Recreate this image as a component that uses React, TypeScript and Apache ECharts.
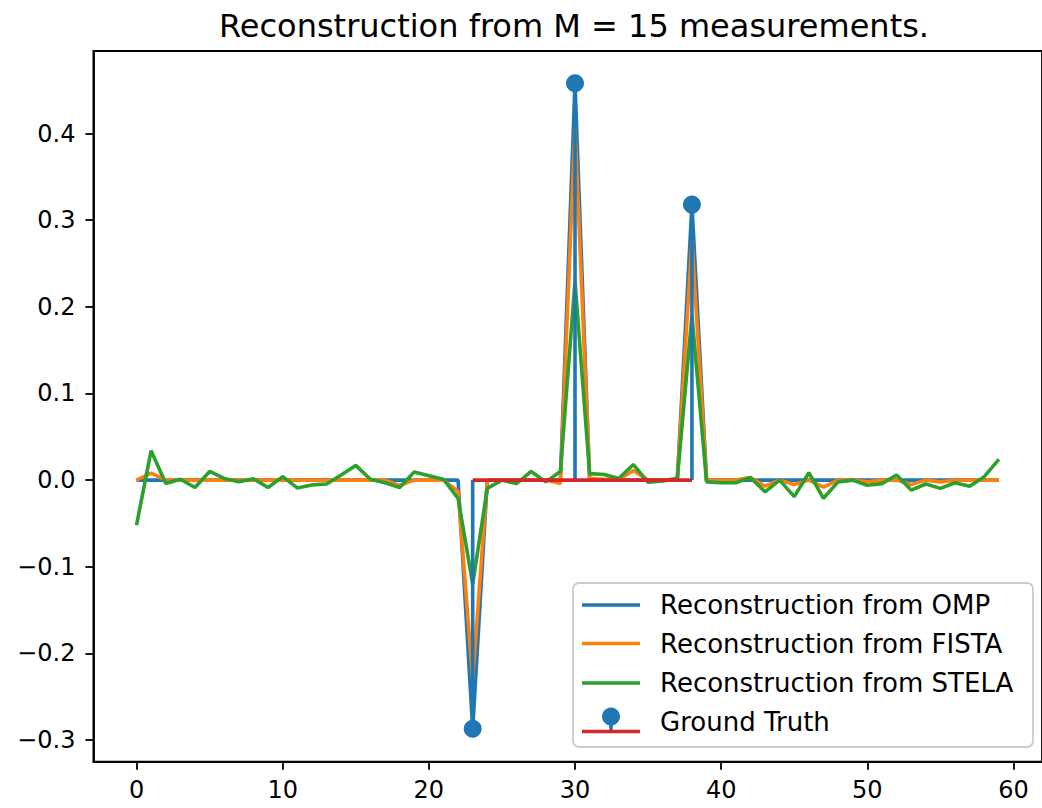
import React, { useEffect, useRef } from 'react';
import * as echarts from 'echarts';

const indices: number[] = Array.from({ length: 60 }, (_, i) => i);

const ompValues = [
  0, 0, 0, 0, 0, 0, 0, 0, 0, 0,
  0, 0, 0, 0, 0, 0, 0, 0, 0, 0,
  0, 0, 0, -0.287, 0, 0, 0, 0, 0, 0,
  0.458, 0, 0, 0, 0, 0, 0, 0, 0.318, 0,
  0, 0, 0, 0, 0, 0, 0, 0, 0, 0,
  0, 0, 0, 0, 0, 0, 0, 0, 0, 0,
];

const fistaValues = [
  0, 0.008, 0, 0, 0, 0, 0, 0, 0, 0,
  0, 0, 0, 0, 0, 0, 0, 0, -0.006, 0,
  0, 0, -0.013, -0.23, 0, 0, 0, 0, 0, -0.004,
  0.407, 0.002, 0.001, 0.001, 0.011, 0, 0, 0.001, 0.277, 0,
  0, 0, 0.003, -0.007, 0, -0.005, 0, -0.008, 0, 0,
  -0.002, 0, 0, -0.005, 0, -0.002, 0, 0, 0, 0,
];

const stelaValues = [
  -0.052, 0.034, -0.004, 0.001, -0.0085, 0.01, 0.002, -0.002, 0.0015, -0.0085,
  0.004, -0.009, -0.0055, -0.0045, 0.006, 0.017, 0.001, -0.003, -0.0085, 0.0095,
  0.005, 0.001, -0.021, -0.12, -0.0095, 0, -0.004, 0.01, -0.002, 0.01,
  0.229, 0.0075, 0.0065, 0.002, 0.018, -0.0025, -0.001, 0.002, 0.19, -0.002,
  -0.003, -0.003, 0.003, -0.0135, 0, -0.019, 0.0085, -0.021, -0.002, 0,
  -0.006, -0.004, 0.006, -0.0115, -0.0045, -0.0095, -0.003, -0.007, 0.004, 0.024,
];

const truthIndices = [23, 30, 38];
const truthValues = [-0.287, 0.458, 0.318];

const xTicks = [0, 10, 20, 30, 40, 50, 60];
const yTicks = [-0.3, -0.2, -0.1, 0, 0.1, 0.2, 0.3, 0.4];

const legendLabels = [
  'Reconstruction from OMP',
  'Reconstruction from FISTA',
  'Reconstruction from STELA',
  'Ground Truth',
];

const C0 = '#1f77b4';
const C1 = '#ff7f0e';
const C2 = '#2ca02c';
const C3 = '#d62728';
const FONT = '"DejaVu Sans", sans-serif';
const LW = 3.6;

function pairs(vals: number[]) {
  return indices.map((i) => [i, vals[i]]);
}

export default function App() {
  const ref = useRef<HTMLDivElement>(null);

  useEffect(() => {
    if (!ref.current) return;
    const chart = echarts.init(ref.current, undefined, { renderer: 'svg' });

    const lx0 = 582;
    const lx1 = 640;
    const rowsY = [605, 643.5, 683, 721.5];

    const legendChildren: any[] = [
      {
        type: 'rect',
        shape: { x: 573, y: 583, width: 460, height: 164, r: 6 },
        style: { fill: 'rgba(255,255,255,0.8)', stroke: '#cccccc', lineWidth: 1.8 },
      },
    ];
    const lineColors = [C0, C1, C2];
    lineColors.forEach((c, k) => {
      legendChildren.push({
        type: 'line',
        shape: { x1: lx0, y1: rowsY[k], x2: lx1, y2: rowsY[k] },
        style: { stroke: c, lineWidth: LW },
      });
    });
    const baseY = 731.5;
    const mx = (lx0 + lx1) / 2;
    legendChildren.push({
      type: 'line',
      shape: { x1: mx, y1: 716.5, x2: mx, y2: baseY },
      style: { stroke: C0, lineWidth: LW },
    });
    legendChildren.push({
      type: 'line',
      shape: { x1: lx0, y1: baseY, x2: lx1, y2: baseY },
      style: { stroke: C3, lineWidth: LW },
    });
    legendChildren.push({
      type: 'circle',
      shape: { cx: mx, cy: 716.5, r: 9 },
      style: { fill: C0 },
    });
    legendLabels.forEach((t, k) => {
      legendChildren.push({
        type: 'text',
        x: 660,
        y: rowsY[k],
        style: {
          text: t,
          fill: '#000',
          fontSize: 26,
          fontFamily: FONT,
          align: 'left',
          verticalAlign: 'middle',
        },
      });
    });

    chart.setOption({
      animation: false,
      backgroundColor: '#ffffff',
      title: {
        text: 'Reconstruction from M = 15 measurements.',
        left: 569,
        top: 5,
        textAlign: 'center',
        textStyle: { fontSize: 32, fontWeight: 'normal', color: '#000', fontFamily: FONT },
      },
      grid: {
        left: 93.4,
        top: 51,
        right: -3.4,
        bottom: 46.3,
        show: true,
        borderColor: '#000',
        borderWidth: 1.8,
        backgroundColor: 'transparent',
      },
      xAxis: {
        type: 'value',
        min: -2.95,
        max: 61.95,
        axisLine: { show: true, onZero: false, lineStyle: { color: '#000', width: 1.8 } },
        axisTick: { show: true, customValues: xTicks, length: 8, lineStyle: { color: '#000', width: 1.8 } },
        axisLabel: {
          customValues: xTicks,
          fontSize: 24,
          color: '#000',
          fontFamily: FONT,
          margin: 16,
          formatter: (v: number) => String(v),
        },
        splitLine: { show: false },
      },
      yAxis: {
        type: 'value',
        min: -0.325,
        max: 0.4953,
        axisLine: { show: true, onZero: false, lineStyle: { color: '#000', width: 1.8 } },
        axisTick: { show: true, customValues: yTicks, length: 8, lineStyle: { color: '#000', width: 1.8 } },
        axisLabel: {
          customValues: yTicks,
          fontSize: 24,
          color: '#000',
          fontFamily: FONT,
          margin: 18,
          formatter: (v: number) => (v < -1e-9 ? '\u2212' : '') + Math.abs(v).toFixed(1),
        },
        splitLine: { show: false },
      },
      series: [
        {
          name: legendLabels[0],
          type: 'line',
          data: pairs(ompValues),
          showSymbol: false,
          lineStyle: { color: C0, width: LW },
          itemStyle: { color: C0 },
          z: 2,
        },
        {
          name: legendLabels[1],
          type: 'line',
          data: pairs(fistaValues),
          showSymbol: false,
          lineStyle: { color: C1, width: LW },
          itemStyle: { color: C1 },
          z: 3,
        },
        {
          name: legendLabels[2],
          type: 'line',
          data: pairs(stelaValues),
          showSymbol: false,
          lineStyle: { color: C2, width: LW },
          itemStyle: { color: C2 },
          z: 4,
        },
        {
          name: 'stems',
          type: 'custom',
          data: truthIndices.map((x, k) => [x, truthValues[k]]),
          encode: { x: 0, y: 1 },
          renderItem: (params: any, api: any) => {
            const x = api.value(0);
            const y = api.value(1);
            const p0 = api.coord([x, 0]);
            const p1 = api.coord([x, y]);
            return {
              type: 'line',
              shape: { x1: p0[0], y1: p0[1], x2: p1[0], y2: p1[1] },
              style: { stroke: C0, lineWidth: LW },
            };
          },
          z: 5,
        },
        {
          name: 'baseline',
          type: 'line',
          data: [
            [truthIndices[0], 0],
            [truthIndices[truthIndices.length - 1], 0],
          ],
          showSymbol: false,
          lineStyle: { color: C3, width: LW },
          itemStyle: { color: C3 },
          z: 6,
        },
        {
          name: legendLabels[3],
          type: 'scatter',
          data: truthIndices.map((x, k) => [x, truthValues[k]]),
          symbol: 'circle',
          symbolSize: 18,
          itemStyle: { color: C0, opacity: 1 },
          z: 7,
        },
      ],
      graphic: [
        {
          type: 'group',
          z: 100,
          children: legendChildren,
        },
      ],
    });

    return () => {
      chart.dispose();
    };
  }, []);

  return (
    <div
      ref={ref}
      style={{ position: 'fixed', left: 0, top: 0, width: 1042, height: 808, background: '#fff' }}
    />
  );
}
